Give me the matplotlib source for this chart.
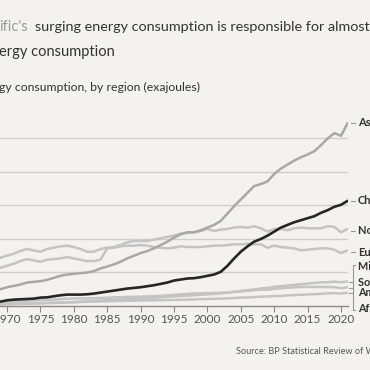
import matplotlib
matplotlib.use("Agg")
import matplotlib.pyplot as plt
from matplotlib.lines import Line2D

# primary energy consumption by region, exajoules, 1965-2021
years = list(range(1965, 2022))

asia_pacific = [18, 19.5, 20.5, 22, 25, 28, 30, 32, 35, 36, 37, 39, 42, 45, 47, 48, 49, 50, 52, 56,
                59, 62, 66, 71, 75, 79, 82, 86, 91, 96, 102, 107, 110, 110, 113, 117, 121, 127, 138, 149,
                159, 169, 179, 182, 186, 197, 205, 211, 217, 222, 226, 231, 240, 250, 258, 254, 273]
china = [5.5, 6, 5.5, 5.5, 6.5, 8.5, 9.5, 10, 10.5, 11, 12.5, 13, 14.5, 16, 17, 17, 17, 17.5, 18.5, 20,
         21.5, 23, 24.5, 26, 27, 28, 29.5, 31, 33, 35, 38, 39.5, 41, 41.5, 43, 45, 47, 51, 60, 71,
         81, 89, 96, 100, 105, 111, 117, 121, 125, 128, 131, 134, 139, 143, 148, 151, 157]
north_america = [60, 63, 65, 69, 72, 75, 78, 82, 85, 83, 81, 85, 87, 89, 90, 88, 85, 81, 81, 85,
                 87, 88, 91, 95, 97, 97, 97, 99, 101, 103, 105, 108, 109, 110, 112, 115, 112, 114, 115, 117,
                 118, 117, 119, 116, 111, 115, 115, 113, 116, 117, 116, 116, 116, 119, 118, 110, 115]
europe = [46, 48, 50, 53, 57, 60, 63, 67, 70, 68, 66, 69, 70, 71, 73, 71, 69, 67, 67, 69,
          86, 87, 89, 90, 90, 91, 90, 88, 87, 86, 87, 89, 88, 88, 88, 89, 90, 90, 91, 92,
          92, 93, 92, 92, 87, 90, 88, 87, 86, 83, 84, 85, 86, 86, 84, 79, 83]
middle_east = [1.8, 2.0, 2.1, 2.3, 2.5, 2.7, 3.0, 3.2, 3.5, 3.8, 4.1, 4.6, 5.0, 5.3, 5.7, 5.9, 6.4, 7.1, 7.6, 8.2,
               8.7, 9.1, 9.6, 10.3, 10.8, 11.0, 11.4, 12.3, 13.0, 13.7, 14.3, 14.9, 15.5, 16.0, 16.6, 17.3, 18.0, 19.0, 19.8, 21.2,
               22.5, 23.6, 24.6, 26.2, 27.0, 28.7, 29.5, 30.6, 31.5, 32.5, 33.5, 34.5, 35.3, 35.5, 36.3, 35.4, 36.8]
sc_america = [4.5, 4.8, 5.0, 5.4, 5.8, 6.2, 6.6, 7.1, 7.7, 8.2, 8.6, 9.1, 9.6, 10.2, 10.8, 11.2, 11.3, 11.4, 11.5, 12.0,
              12.3, 12.8, 13.2, 13.5, 13.7, 13.9, 14.3, 14.7, 15.2, 15.9, 16.6, 17.3, 18.1, 18.6, 18.8, 19.3, 19.5, 19.6, 20.0, 21.0,
              21.8, 22.6, 23.6, 24.3, 24.2, 25.6, 26.4, 27.2, 27.9, 28.4, 28.6, 28.4, 28.5, 28.3, 28.1, 26.5, 28.0]
africa = [2.3, 2.4, 2.5, 2.6, 2.8, 3.0, 3.2, 3.4, 3.6, 3.8, 4.0, 4.3, 4.6, 4.9, 5.2, 5.5, 6.0, 6.3, 6.5, 6.8,
          7.1, 7.3, 7.5, 7.8, 8.0, 8.2, 8.3, 8.5, 8.6, 8.8, 9.1, 9.3, 9.6, 9.8, 10.1, 10.4, 10.7, 10.9, 11.4, 12.0,
          12.5, 12.8, 13.3, 14.0, 14.2, 14.8, 15.0, 15.8, 16.3, 16.8, 17.2, 17.6, 18.2, 18.8, 19.3, 18.6, 19.8]

year_ticks = [1970, 1975, 1980, 1985, 1990, 1995, 2000, 2005, 2010, 2015, 2020]
grid_values = [50, 100, 150, 200, 250]

bg = "#f3f2f1"
light = "#c4c4c4"
asia_col = "#a8a8a8"
dark = "#262626"

W = H = 370
fig = plt.figure(figsize=(3.7, 3.7), dpi=100, facecolor=bg)

# axes placed so that the left part (1965-69) falls outside the figure, as in the crop
x0, x1 = -26.4, 347.7
y0, y1 = 306, 115
ax = fig.add_axes([x0 / W, 1 - y0 / H, (x1 - x0) / W, (y0 - y1) / H])
ax.set_facecolor(bg)
ax.set_xlim(1965, 2021)
ax.set_ylim(0, 285)

for v in grid_values:
    ax.axhline(v, color="#cfcfcf", lw=1.0, zorder=1)

for s in [africa, sc_america, middle_east, europe, north_america]:
    ax.plot(years, s, color=light, lw=1.8, zorder=2, solid_capstyle="round")
ax.plot(years, asia_pacific, color=asia_col, lw=1.8, zorder=3, solid_capstyle="round")
ax.plot(years, china, color=dark, lw=1.9, zorder=4, solid_capstyle="round")

for side in ["top", "right", "left"]:
    ax.spines[side].set_visible(False)
ax.spines["bottom"].set_color("#8a8a8a")
ax.spines["bottom"].set_linewidth(1.0)
ax.set_yticks([])
ax.set_xticks(year_ticks)
ax.tick_params(axis="x", length=4, width=0.8, color="#8a8a8a", labelsize=8.5,
               labelcolor="#555555", pad=2)
for t in ax.get_xticklabels():
    t.set_fontfamily("Lato")

# right-hand labels
def fy(p):
    return 1 - p / H

labels = [("Asia-Pacific", 123), ("China", 201), ("North America", 231), ("Europe", 252)]
for txt, py in labels:
    fig.text(358 / W, fy(py), txt, fontsize=8, fontweight="bold", color="#333333",
             va="center", ha="left", family="Lato")
    fig.add_artist(Line2D([351 / W, 355 / W], [fy(py), fy(py)], color="#999999", lw=0.8))

group = [("Middle East", 267), ("South & Central", 282), ("America", 293), ("Africa", 308)]
for txt, py in group:
    fig.text(358 / W, fy(py), txt, fontsize=7.8, fontweight="bold", color="#333333",
             va="center", ha="left", family="Lato")
# bracket for the small regions
fig.add_artist(Line2D([355 / W, 353 / W, 353 / W, 355 / W], [fy(265), fy(265), fy(310), fy(310)],
                      color="#999999", lw=0.8))
for py in [282, 288, 293]:
    fig.add_artist(Line2D([349 / W, 352 / W], [fy(py), fy(py)], color="#999999", lw=0.8))

# title, subtitle and source (cropped on the left like the reference)
fig.text(-1 / W, fy(27), "ific's", fontsize=10.5, color="#9a9a9a", va="center", ha="left", family="Lato")
fig.text(35 / W, fy(27), "surging energy consumption is responsible for almost half of global",
         fontsize=10.4, color="#333333", va="center", ha="left", family="Lato")
fig.text(-1 / W, fy(52), "ergy consumption", fontsize=10.5, color="#333333",
         va="center", ha="left", family="Lato")
fig.text(-1 / W, fy(87), "gy consumption, by region (exajoules)", fontsize=8.8, color="#333333",
         va="center", ha="left", family="Lato")
fig.text(236 / W, fy(352), "Source: BP Statistical Review of World Energy", fontsize=6.6,
         color="#555555", va="center", ha="left", family="Lato")

fig.savefig("out.png", dpi=100, facecolor=bg)
